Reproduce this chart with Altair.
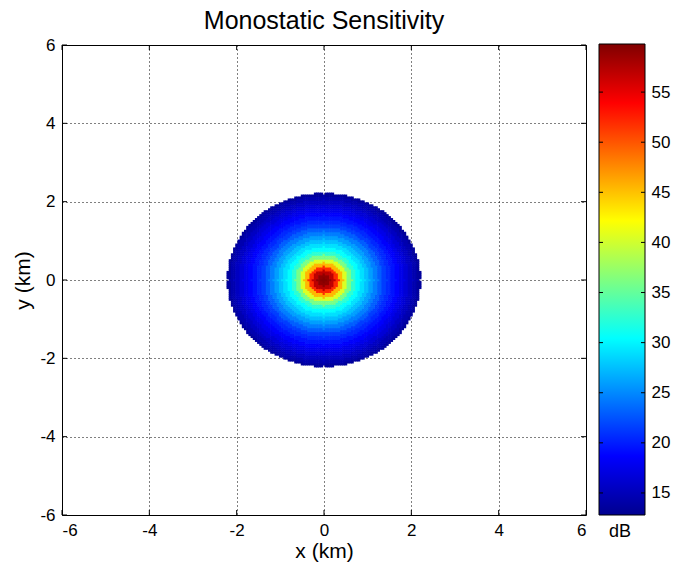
import altair as alt
import numpy as np
import pandas as pd

# Radial sensitivity profile (distance from the radar, km -> dB)
radius_km = [0.0, 0.1, 0.2, 0.3, 0.4, 0.5, 0.6, 0.7, 0.8, 0.9, 1.0, 1.1,
             1.2, 1.3, 1.4, 1.5, 1.6, 1.7, 1.8, 1.9, 2.0, 2.1, 2.2]
sens_db = [59.5, 59.0, 57.0, 52.0, 45.5, 40.5, 36.0, 32.5, 30.5, 29.0, 27.5, 26.0,
           24.5, 23.0, 21.5, 20.5, 19.5, 18.5, 17.5, 16.5, 15.5, 14.5, 13.5]
max_radius_km = 2.2
axis_ticks = [-6, -4, -2, 0, 2, 4, 6]
cbar_ticks = [15, 20, 25, 30, 35, 40, 45, 50, 55]
cbar_lo, cbar_hi = 12.8, 59.8

# jet colour map
jet_fracs = [0.0, 0.125, 0.375, 0.625, 0.875, 1.0]
jet_colors = ["#00008f", "#0000ff", "#00ffff", "#ffff00", "#ff0000", "#800000"]
jet_domain = [cbar_lo + f * (cbar_hi - cbar_lo) for f in jet_fracs]

W, H = 524, 470
CB_X0, CB_X1 = 537, 583   # colour bar left/right, relative to plot origin

step = 0.05
half = 0.032
coords = np.round(np.arange(-max_radius_km, max_radius_km + 1e-9, step), 4)
rows = []
for gx in coords:
    for gy in coords:
        r = float(np.hypot(gx, gy))
        on_axis_tip = (abs(gy) < 1e-9 and abs(abs(gx) - max_radius_km) < 1e-9) or \
                      (abs(gx) < 1e-9 and abs(abs(gy) - max_radius_km) < 1e-9)
        if r < max_radius_km + 0.012 and not on_axis_tip:
            idx = min(int(round(r / 0.1)), len(sens_db) - 1)
            rows.append({"x": gx - half, "x2": gx + half,
                         "y": gy - half, "y2": gy + half,
                         "dB": sens_db[idx]})
df = pd.DataFrame(rows)
ticks_df = pd.DataFrame({"t": axis_ticks})
cb_df = pd.DataFrame({"v": cbar_ticks})
one_df = pd.DataFrame({"label": ["dB"]})

FONT = "Liberation Sans"
label_expr = "'' + datum.value"
xs = alt.Scale(domain=[-6, 6], nice=False, zero=False)
ys = alt.Scale(domain=[-6, 6], nice=False, zero=False)

heat = alt.Chart(df).mark_rect(strokeWidth=0).encode(
    x=alt.X("x:Q", scale=xs,
            axis=alt.Axis(values=axis_ticks, title="x (km)", labelExpr=label_expr)),
    x2="x2:Q",
    y=alt.Y("y:Q", scale=ys,
            axis=alt.Axis(values=axis_ticks, title="y (km)", labelExpr=label_expr)),
    y2="y2:Q",
    color=alt.Color("dB:Q",
                    scale=alt.Scale(domain=jet_domain, range=jet_colors, interpolate="rgb"),
                    legend=None),
)

tick_style = dict(color="black", strokeWidth=1)
xt_bottom = alt.Chart(ticks_df).mark_rule(**tick_style).encode(
    x=alt.X("t:Q", scale=xs), y=alt.value(H), y2=alt.value(H - 5))
xt_top = alt.Chart(ticks_df).mark_rule(**tick_style).encode(
    x=alt.X("t:Q", scale=xs), y=alt.value(0), y2=alt.value(5))
yt_left = alt.Chart(ticks_df).mark_rule(**tick_style).encode(
    y=alt.Y("t:Q", scale=ys), x=alt.value(0), x2=alt.value(5))
yt_right = alt.Chart(ticks_df).mark_rule(**tick_style).encode(
    y=alt.Y("t:Q", scale=ys), x=alt.value(W), x2=alt.value(W - 5))

# colour bar
jet_gradient = alt.LinearGradient(
    gradient="linear", x1=0, y1=1, x2=0, y2=0,
    stops=[alt.GradientStop(offset=f, color=c) for f, c in zip(jet_fracs, jet_colors)])
cb_rect = alt.Chart(one_df).mark_rect(color=jet_gradient, stroke="black", strokeWidth=1).encode(
    x=alt.value(CB_X0), x2=alt.value(CB_X1), y=alt.value(-1), y2=alt.value(H))
cb_scale = alt.Scale(domain=[cbar_lo, cbar_hi], range=[H, -1], nice=False, zero=False)
cb_left = alt.Chart(cb_df).mark_rule(**tick_style).encode(
    y=alt.Y("v:Q", scale=cb_scale,
            axis=alt.Axis(orient="right", offset=CB_X1 - W, values=cbar_ticks, grid=False,
                          ticks=False, domain=False, labelPadding=6, title=None)),
    x=alt.value(CB_X0), x2=alt.value(CB_X0 + 4))
cb_right = alt.Chart(cb_df).mark_rule(**tick_style).encode(
    y=alt.Y("v:Q", scale=cb_scale), x=alt.value(CB_X1), x2=alt.value(CB_X1 - 4))
cb_title = alt.Chart(one_df).mark_text(font=FONT, fontSize=18, color="black",
                                       align="center", baseline="middle").encode(
    x=alt.value((CB_X0 + CB_X1) / 2 - 2), y=alt.value(H + 17), text="label:N")

main = alt.layer(heat, xt_bottom, xt_top, yt_left, yt_right)
cbar = alt.layer(cb_rect, cb_left, cb_right, cb_title)

chart = alt.layer(main, cbar).resolve_scale(y="independent").properties(
    width=W, height=H,
    background="white",
    title=alt.Title("Monostatic Sensitivity", font=FONT, fontSize=25,
                    fontWeight="normal", color="black", offset=2),
    autosize=alt.AutoSizeParams(type="none"),
    padding={"left": 62, "top": 45, "right": 87, "bottom": 57},
).configure_axis(
    labelFont=FONT, labelFontSize=17, labelColor="black",
    titleFont=FONT, titleFontSize=21, titleFontWeight="normal", titleColor="black",
    grid=True, gridColor="black", gridDash=[1, 3], gridOpacity=1, gridWidth=1,
    ticks=False, domain=False, labelPadding=7,
).configure_axisX(titlePadding=2).configure_axisY(titlePadding=6).configure_view(
    stroke="black", strokeWidth=1
)

chart.save("out.html", embed_options={"renderer": "svg", "actions": False})
